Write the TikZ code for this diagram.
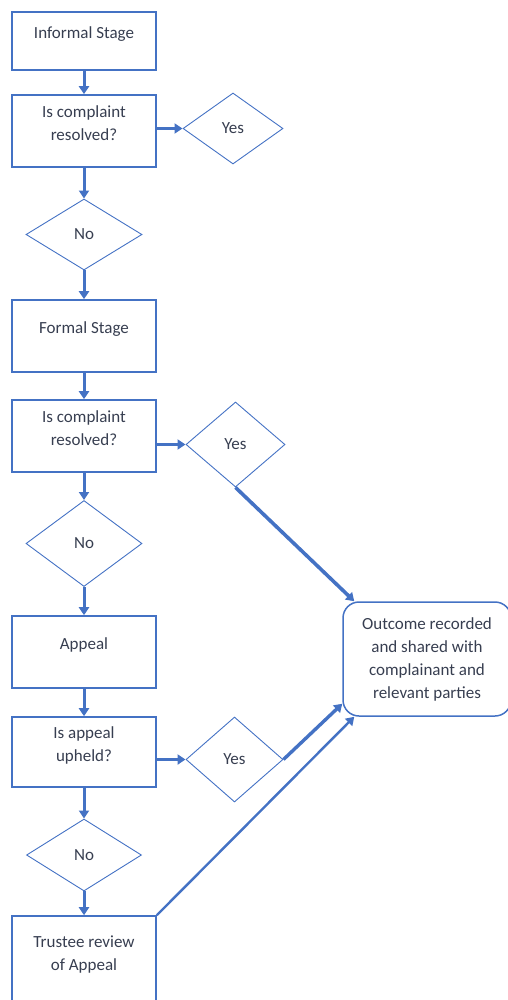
\documentclass[tikz,border=0pt]{standalone}
\usepackage{fontspec}
\setmainfont{Carlito}
\definecolor{flowblue}{RGB}{68, 114, 196}
\definecolor{flowtext}{RGB}{55, 62, 80}
\usetikzlibrary{shapes.geometric, arrows.meta, calc}

\begin{document}
\begin{tikzpicture}[x=1pt, y=-1pt,
  every node/.style={font=\fontsize{17}{23}\selectfont, text=flowtext},
  stagebox/.style={draw=flowblue, line width=1.6pt, rectangle, minimum width=144pt, minimum height=72pt, inner sep=0pt, align=center, execute at end node={\rule[-16pt]{0pt}{0pt}}},
  answerbox/.style={draw=flowblue, line width=0.9pt, diamond, inner sep=0pt},
  outcomebox/.style={draw=flowblue, line width=1.5pt, rectangle, rounded corners=16pt, minimum width=168pt, minimum height=114pt, inner sep=0pt, align=center},
  flowarrow/.style={draw=flowblue, line width=3pt, -{Triangle[width=10pt, length=8pt]}}]
  \useasboundingbox (0,0) rectangle (507,1000);

  \node[stagebox, minimum height=58pt] (informal) at (84, 41) {Informal Stage};
  \node[stagebox] (resolved1) at (84, 131) {Is complaint\\resolved?};
  \node[answerbox, minimum width=100pt, minimum height=71pt] (yes1) at (233, 128.5) {Yes};
  \node[answerbox, minimum width=116pt, minimum height=71pt] (no1) at (84, 234.5) {No};

  \node[stagebox] (formal) at (84, 336) {Formal Stage};
  \node[stagebox] (resolved2) at (84, 436) {Is complaint\\resolved?};
  \node[answerbox, minimum width=99pt, minimum height=85pt] (yes2) at (235.5, 444.5) {Yes};
  \node[answerbox, minimum width=116pt, minimum height=86pt] (no2) at (84, 543.5) {No};

  \node[stagebox] (appeal) at (84, 652) {Appeal};
  \node[stagebox, minimum height=70pt] (upheld) at (84, 752) {Is appeal\\upheld?};
  \node[answerbox, minimum width=97pt, minimum height=85pt] (yes3) at (234.5, 759.5) {Yes};
  \node[answerbox, minimum width=115pt, minimum height=72pt] (no3) at (84, 855) {No};

  \node[stagebox, minimum height=90pt] (trustee) at (84, 961) {Trustee review\\of Appeal};
  \node[outcomebox] (outcome) at (427, 659) {Outcome recorded\\and shared with\\complainant and\\relevant parties};

  % down the left column
  \draw[flowarrow] (informal) -- (resolved1);
  \draw[flowarrow] (resolved1) -- (no1);
  \draw[flowarrow] (no1) -- (formal);
  \draw[flowarrow] (formal) -- (resolved2);
  \draw[flowarrow] (resolved2) -- (no2);
  \draw[flowarrow] (no2) -- (appeal);
  \draw[flowarrow] (appeal) -- (upheld);
  \draw[flowarrow] (upheld) -- (no3);
  \draw[flowarrow] (no3) -- (trustee);

  % yes branches
  \draw[flowarrow] (resolved1.east |- yes1.west) -- (yes1.west);
  \draw[flowarrow] (resolved2.east |- yes2.west) -- (yes2.west);
  \draw[flowarrow] (upheld.east |- yes3.west) -- (yes3.west);

  % into the outcome
  \draw[flowarrow, line width=3.6pt] (yes2.south) -- ($(outcome.north west)+(12,0)$);
  \draw[flowarrow, line width=3.4pt] (yes3.east) -- ($(outcome.south west)+(0,-13)$);
  \draw[flowarrow, line width=2.4pt] (trustee.north east) -- ($(outcome.south west)+(12,0)$);
\end{tikzpicture}
\end{document}
